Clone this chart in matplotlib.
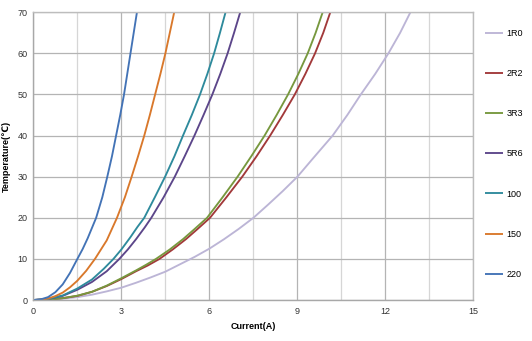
import numpy as np
import matplotlib
matplotlib.use("Agg")
import matplotlib.pyplot as plt

plt.rcParams['font.family'] = ['Liberation Sans', 'DejaVu Sans']

# current (A) / temperature rise (C)
i_1r0 = [0, 0.5, 1.0, 1.5, 2.0, 2.5, 3.0, 3.5, 4.0, 4.5, 5.0, 5.5, 6.0, 6.5, 7.0, 7.5,
         8.0, 8.5, 9.0, 9.5, 10.2, 10.7, 11.16, 11.65, 12.1, 12.5, 12.85]
t_1r0 = [0, 0.08, 0.3, 0.7, 1.3, 2.1, 3.0, 4.2, 5.5, 6.9, 8.7, 10.5, 12.5, 14.8, 17.3, 20,
         23.2, 26.5, 30, 34.2, 40, 45, 50, 55, 60, 65, 70]

i_2r2 = [0, 0.5, 1.0, 1.5, 2.0, 2.5, 3.0, 3.5, 3.9, 4.3, 4.75, 5.2, 5.6, 6.02, 6.58, 7.12,
         7.61, 8.07, 8.5, 8.91, 9.27, 9.6, 9.88, 10.12]
t_2r2 = [0, 0.1, 0.45, 1.0, 2.0, 3.4, 5.1, 7.0, 8.4, 10, 12.3, 14.8, 17.3, 20, 25, 30,
         35, 40, 45, 50, 55, 60, 65, 70]

i_3r3 = [0, 0.5, 1.0, 1.5, 2.0, 2.5, 3.0, 3.5, 3.85, 4.18, 4.65, 5.1, 5.5, 5.92, 6.45, 6.96,
         7.43, 7.88, 8.29, 8.68, 9.03, 9.35, 9.62, 9.86]
t_3r3 = [0, 0.1, 0.45, 1.05, 2.0, 3.5, 5.3, 7.2, 8.6, 10, 12.3, 14.8, 17.3, 20, 25, 30,
         35, 40, 45, 50, 55, 60, 65, 70]

i_5r6 = [0, 0.5, 1.0, 1.5, 2.0, 2.5, 2.93, 3.22, 3.5, 3.8, 4.02, 4.44, 4.82, 5.16, 5.49,
         5.8, 6.1, 6.37, 6.62, 6.84, 7.05]
t_5r6 = [0, 0.22, 1.0, 2.5, 4.4, 7.0, 10, 12.3, 14.8, 17.7, 20, 25, 30, 35, 40,
         45, 50, 55, 60, 65, 70]

i_100 = [0, 0.5, 1.0, 1.5, 2.0, 2.4, 2.73, 3.0, 3.3, 3.55, 3.78, 4.14, 4.49, 4.81, 5.1,
         5.4, 5.68, 5.93, 6.16, 6.36, 6.55]
t_100 = [0, 0.25, 1.1, 2.8, 5.0, 7.6, 10, 12.3, 15.2, 17.8, 20, 25, 30, 35, 40,
         45, 50, 55, 60, 65, 70]

i_150 = [0, 0.25, 0.5, 0.75, 1.0, 1.25, 1.5, 1.8, 2.1, 2.5, 2.85, 3.12, 3.35, 3.57, 3.78,
         3.97, 4.15, 4.33, 4.5, 4.65, 4.8]
t_150 = [0, 0.08, 0.35, 0.95, 1.8, 3.1, 4.7, 7.1, 10, 14.5, 20, 25, 30, 35, 40,
         45, 50, 55, 60, 65, 70]

i_220 = [0, 0.25, 0.5, 0.75, 1.0, 1.25, 1.5, 1.68, 1.85, 2.14, 2.35, 2.52, 2.68, 2.82,
         2.96, 3.09, 3.2, 3.31, 3.42, 3.53]
t_220 = [0, 0.15, 0.7, 1.9, 3.8, 6.6, 10, 12.4, 15, 20, 25, 30, 35, 40,
         45, 50, 55, 60, 65, 70]

names = ['1R0', '2R2', '3R3', '5R6', '100', '150', '220']
currents = [i_1r0, i_2r2, i_3r3, i_5r6, i_100, i_150, i_220]
temps = [t_1r0, t_2r2, t_3r3, t_5r6, t_100, t_150, t_220]
colors = ['#bcb5d6', '#a2393a', '#77983e', '#5c468a', '#2e8a9c', '#d9782b', '#4373b6']

fig = plt.figure(figsize=(5.32, 3.41), dpi=100)
ax = fig.add_axes([0.0627, 0.1202, 0.8273, 0.8438])

for name, x, y, c in zip(names, currents, temps, colors):
    ax.plot(x, y, color=c, lw=1.35, label=name, solid_capstyle='butt',
            solid_joinstyle='round')

ax.set_xlim(0, 15)
ax.set_ylim(0, 70)
ax.set_xticks(np.arange(0, 16, 3))
ax.set_xticks(np.arange(1.5, 15, 3), minor=True)
ax.set_yticks(np.arange(0, 71, 10))
ax.grid(True, which='major', color='#b4b4b4', lw=0.9)
ax.grid(True, which='minor', axis='x', color='#d6d6d6', lw=0.9)
ax.set_axisbelow(True)
for s in ax.spines.values():
    s.set_color('#bdbdbd')
    s.set_linewidth(1.0)
ax.spines['left'].set_color('#a8a8a8')
ax.spines['bottom'].set_color('#a8a8a8')
ax.tick_params(which='both', length=0, labelsize=6.5, colors='#333333')
ax.tick_params(axis='x', pad=5)
ax.tick_params(axis='y', pad=4)

ax.set_xlabel('Current(A)', fontsize=6.5, fontweight='bold', labelpad=4)
ax.set_ylabel('Temperature(℃)', fontsize=6.5, fontweight='bold', labelpad=5)

fig.legend(loc='upper left', bbox_to_anchor=(0.912, 0.915), frameon=False,
           fontsize=6.5, handlelength=2.0, handletextpad=0.35,
           labelspacing=3.45, borderpad=0, borderaxespad=0)

fig.savefig('out.png', dpi=100)
